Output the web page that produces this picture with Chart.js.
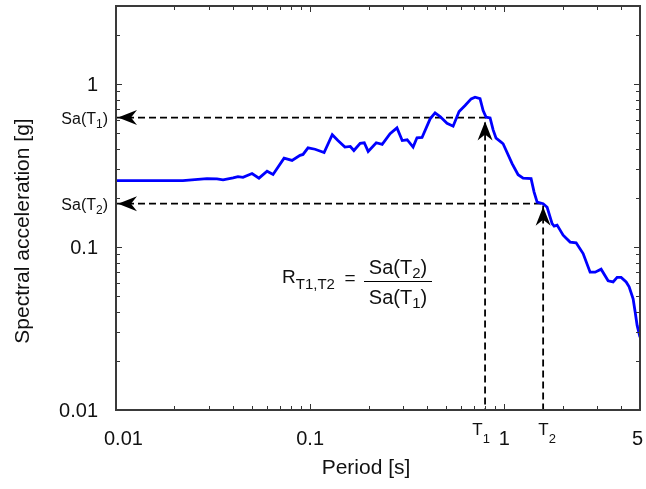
<!DOCTYPE html>
<html>
<head>
<meta charset="utf-8">
<script src="https://cdn.jsdelivr.net/npm/chart.js@4.4.1/dist/chart.umd.min.js"></script>
<style>
  html, body { margin: 0; padding: 0; background: #fff; }
  canvas { display: block; }
</style>
</head>
<body>
<canvas id="chart" width="646" height="489"></canvas>
<script>
// response spectrum (period in s, Sa in g)
const periods = [0.01, 0.0221, 0.0294, 0.0331, 0.0356, 0.0401, 0.0425, 0.0451, 0.0502, 0.0545,
  0.0600, 0.0644, 0.0734, 0.0807, 0.0887, 0.0919, 0.0975, 0.106, 0.118, 0.130,
  0.139, 0.151, 0.161, 0.168, 0.181, 0.190, 0.199, 0.219, 0.235, 0.258,
  0.280, 0.298, 0.316, 0.339, 0.355, 0.377, 0.415, 0.440, 0.467, 0.507,
  0.545, 0.585, 0.628, 0.675, 0.707, 0.750, 0.778, 0.806, 0.845, 0.876,
  0.907, 0.963, 0.986, 1.097, 1.178, 1.25, 1.374, 1.424, 1.476, 1.585,
  1.662, 1.763, 1.806, 1.871, 2.009, 2.183, 2.344, 2.547, 2.767, 2.937,
  3.152, 3.425, 3.635, 3.812, 3.998, 4.243, 4.395, 4.608, 4.719, 4.833, 5.0];
const spectralAcc = [0.255, 0.255, 0.262, 0.261, 0.2575, 0.265, 0.270, 0.267, 0.282, 0.264,
  0.291, 0.278, 0.350, 0.339, 0.364, 0.369, 0.405, 0.397, 0.379, 0.487,
  0.449, 0.409, 0.413, 0.390, 0.432, 0.435, 0.385, 0.435, 0.425, 0.494,
  0.537, 0.449, 0.454, 0.409, 0.467, 0.469, 0.610, 0.664, 0.630, 0.573,
  0.550, 0.676, 0.736, 0.808, 0.827, 0.812, 0.686, 0.624, 0.618, 0.522,
  0.464, 0.439, 0.429, 0.324, 0.277, 0.264, 0.262, 0.217, 0.188, 0.184,
  0.175, 0.139, 0.134, 0.136, 0.118, 0.107, 0.106, 0.091, 0.070, 0.070,
  0.073, 0.062, 0.061, 0.065, 0.065, 0.061, 0.057, 0.048, 0.040, 0.033, 0.028];

// the two periods and their spectral values
const T1 = 0.796, T2 = 1.585;
const saT1 = 0.621, saT2 = 0.184;

// axis ticks
const xMajor = [0.01, 0.1, 1];
const xLabelValues = [0.01, 0.1, 1, 5];
const xLabels = ['0.01', '0.1', '1', '5'];
const xMinor = [0.02, 0.03, 0.04, 0.05, 0.06, 0.07, 0.08, 0.09,
  0.2, 0.3, 0.4, 0.5, 0.6, 0.7, 0.8, 0.9, 2, 3, 4];
const yMajor = [0.01, 0.1, 1];
const yLabels = ['0.01', '0.1', '1'];
const yMinor = [0.02, 0.03, 0.04, 0.05, 0.06, 0.07, 0.08, 0.09,
  0.2, 0.3, 0.4, 0.5, 0.6, 0.7, 0.8, 0.9, 2];

const FONT = '"Liberation Sans", Arial, Helvetica, sans-serif';
const INK = '#111';

// text with sub-scripts: parts = [[text, size, dy], ...]
function drawRich(ctx, parts, x, y, align) {
  let w = 0;
  parts.forEach(p => { ctx.font = p[1] + 'px ' + FONT; w += ctx.measureText(p[0]).width; });
  let cx = align === 'center' ? x - w / 2 : align === 'right' ? x - w : x;
  ctx.textAlign = 'left';
  ctx.textBaseline = 'alphabetic';
  parts.forEach(p => {
    ctx.font = p[1] + 'px ' + FONT;
    ctx.fillText(p[0], cx, y + (p[2] || 0));
    cx += ctx.measureText(p[0]).width;
  });
  return w;
}

function arrowHead(ctx, x, y, dir) {
  const L = 19, H = 7.5, N = 13;
  ctx.save();
  ctx.translate(x, y);
  if (dir === 'up') ctx.rotate(Math.PI / 2);
  ctx.beginPath();
  ctx.moveTo(0, 0);
  ctx.lineTo(L, -H);
  ctx.lineTo(N, 0);
  ctx.lineTo(L, H);
  ctx.closePath();
  ctx.fillStyle = '#000';
  ctx.fill();
  ctx.restore();
}

const decorations = {
  id: 'decorations',
  afterDraw(chart) {
    const ctx = chart.ctx;
    const xs = chart.scales.x, ys = chart.scales.y;
    const a = chart.chartArea;
    ctx.save();

    // ticks pointing inward, on all four sides
    ctx.strokeStyle = '#333';
    ctx.lineWidth = 1;
    ctx.beginPath();
    const xt = (v, len) => {
      const px = Math.round(xs.getPixelForValue(v)) + 0.5;
      ctx.moveTo(px, a.bottom); ctx.lineTo(px, a.bottom - len);
      ctx.moveTo(px, a.top); ctx.lineTo(px, a.top + len);
    };
    const yt = (v, len) => {
      const py = Math.round(ys.getPixelForValue(v)) + 0.5;
      ctx.moveTo(a.left, py); ctx.lineTo(a.left + len, py);
      ctx.moveTo(a.right, py); ctx.lineTo(a.right - len, py);
    };
    xMajor.forEach(v => xt(v, 6));
    xMinor.forEach(v => xt(v, 4));
    yMajor.forEach(v => yt(v, 6));
    yMinor.forEach(v => yt(v, 4));
    ctx.stroke();

    // frame
    ctx.strokeStyle = '#3a3a3a';
    ctx.lineWidth = 2;
    ctx.strokeRect(a.left, a.top, a.right - a.left, a.bottom - a.top);

    // arrow heads
    const pT1 = xs.getPixelForValue(T1), pT2 = xs.getPixelForValue(T2);
    const pS1 = ys.getPixelForValue(saT1), pS2 = ys.getPixelForValue(saT2);
    arrowHead(ctx, a.left + 2, pS1, 'left');
    arrowHead(ctx, a.left + 2, pS2, 'left');
    arrowHead(ctx, pT1, pS1 + 4, 'up');
    arrowHead(ctx, pT2, pS2 + 3, 'up');

    ctx.fillStyle = INK;
    // y tick labels
    ctx.font = '20px ' + FONT;
    ctx.textAlign = 'right';
    ctx.textBaseline = 'alphabetic';
    yMajor.forEach((v, i) => {
      ctx.fillText(yLabels[i], 98, ys.getPixelForValue(v) + 7);
    });
    drawRich(ctx, [['Sa(T', 16], ['1', 12, 4], [')', 16]], 108, pS1 + 6, 'right');
    drawRich(ctx, [['Sa(T', 16], ['2', 12, 4], [')', 16]], 108, pS2 + 6, 'right');

    // x tick labels
    ctx.font = '20px ' + FONT;
    ctx.textBaseline = 'alphabetic';
    xLabelValues.forEach((v, i) => {
      let px = xs.getPixelForValue(v);
      const w = ctx.measureText(xLabels[i]).width;
      px = Math.max(px, 104 + w / 2);
      px = Math.min(px, 643 - w / 2);
      ctx.textAlign = 'center';
      ctx.fillText(xLabels[i], px, 445);
    });
    drawRich(ctx, [['T', 17], ['1', 13, 8]], pT1 - 4, 435, 'center');
    drawRich(ctx, [['T', 17], ['2', 13, 8]], pT2 + 4, 435, 'center');

    // axis titles
    ctx.font = '21px ' + FONT;
    ctx.textAlign = 'center';
    ctx.fillText('Period [s]', 366, 474);
    ctx.save();
    ctx.translate(29, 231);
    ctx.rotate(-Math.PI / 2);
    ctx.fillText('Spectral acceleration [g]', 0, 0);
    ctx.restore();

    // ratio formula
    drawRich(ctx, [['R', 19], ['T1,T2', 15, 6]], 282, 283, 'left');
    ctx.font = '19px ' + FONT;
    ctx.textAlign = 'center';
    ctx.fillText('=', 350, 284);
    ctx.strokeStyle = '#000';
    ctx.lineWidth = 1.2;
    ctx.beginPath();
    ctx.moveTo(364, 281.5); ctx.lineTo(432, 281.5);
    ctx.stroke();
    drawRich(ctx, [['Sa(T', 20], ['2', 15, 4], [')', 20]], 398, 274, 'center');
    drawRich(ctx, [['Sa(T', 20], ['1', 15, 4], [')', 20]], 398, 304, 'center');

    ctx.restore();
  }
};

const spectrum = periods.map((p, i) => ({ x: p, y: spectralAcc[i] }));
const guide1 = [{ x: 0.01, y: saT1 }, { x: T1, y: saT1 }, { x: T1, y: 0.01 }];
const guide2 = [{ x: 0.01, y: saT2 }, { x: T2, y: saT2 }, { x: T2, y: 0.01 }];

new Chart(document.getElementById('chart'), {
  type: 'line',
  data: {
    datasets: [
      { data: spectrum, borderColor: '#0000ff', borderWidth: 2.8, pointRadius: 0, tension: 0 },
      { data: guide1, borderColor: '#000', borderWidth: 1.8, borderDash: [7, 4], pointRadius: 0, tension: 0 },
      { data: guide2, borderColor: '#000', borderWidth: 1.8, borderDash: [7, 4], pointRadius: 0, tension: 0 }
    ]
  },
  options: {
    responsive: false,
    animation: false,
    events: [],
    layout: { padding: { top: 6, right: 6, left: 0, bottom: 0 } },
    plugins: { legend: { display: false }, tooltip: { enabled: false } },
    scales: {
      x: {
        type: 'logarithmic', min: 0.01, max: 5,
        grid: { display: false }, border: { display: false }, ticks: { display: false },
        afterFit(s) { s.height = 79; }
      },
      y: {
        type: 'logarithmic', min: 0.01, max: 3,
        grid: { display: false }, border: { display: false }, ticks: { display: false },
        afterFit(s) { s.width = 116; }
      }
    }
  },
  plugins: [decorations]
});
</script>
</body>
</html>
